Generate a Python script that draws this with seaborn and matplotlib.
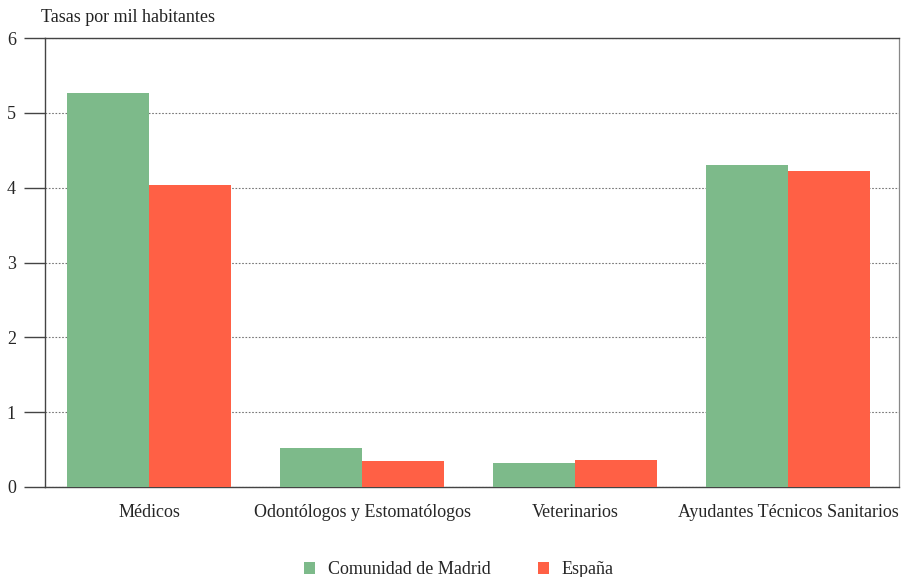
import numpy as np
import pandas as pd
import matplotlib
matplotlib.use("Agg")
import matplotlib.pyplot as plt
import seaborn as sns

# datos
categorias = ["Médicos", "Odontólogos y Estomatólogos", "Veterinarios",
              "Ayudantes Técnicos Sanitarios"]
madrid = [5.27, 0.52, 0.32, 4.30]
espana = [4.04, 0.35, 0.36, 4.22]
series = ["Comunidad de Madrid", "España"]
colores = ["#7dba8a", "#ff6045"]

df = pd.DataFrame({
    "categoria": categorias * 2,
    "serie": [series[0]] * 4 + [series[1]] * 4,
    "valor": madrid + espana,
})

sns.set_style("white")
plt.rcParams["font.family"] = ["Liberation Serif", "DejaVu Serif"]

fig = plt.figure(figsize=(9.03, 5.77), dpi=100)
ax = fig.add_axes([0.0498, 0.156, 0.946, 0.778])

sns.barplot(data=df, x="categoria", y="valor", hue="serie",
            palette=colores, width=0.77, saturation=1, ax=ax,
            edgecolor="none", zorder=3)

ax.set_ylim(0, 6)
ax.set_xlim(-0.49, 3.52)
ax.set_yticks(range(0, 7))
ax.yaxis.grid(True, linestyle=(0, (1.5, 1.5)), color="#777777",
              linewidth=0.8, zorder=0)
ax.set_axisbelow(True)

for s in ["left", "top", "bottom"]:
    ax.spines[s].set_visible(True)
    ax.spines[s].set_color("#444444")
    ax.spines[s].set_linewidth(1.0)
ax.spines["right"].set_visible(True)
ax.spines["right"].set_color("#888888")
ax.spines["right"].set_linewidth(0.9)

ax.tick_params(axis="y", direction="out", length=15, width=1,
               color="#444444", labelsize=13, pad=6, left=True)
ax.tick_params(axis="x", length=0, labelsize=13, pad=12)
ax.set_xlabel("")
ax.set_ylabel("")

fig.text(0.045, 0.955, "Tasas por mil habitantes", fontsize=13,
         ha="left", va="bottom", color="#222222")

h, l = ax.get_legend_handles_labels()
ax.legend_.remove()
fig.legend(h, l, loc="lower center", bbox_to_anchor=(0.508, -0.03),
           ncol=2, frameon=False, fontsize=13, handlelength=0.65,
           handleheight=0.65, columnspacing=2.6, handletextpad=0.7)

fig.savefig("out.png", dpi=100)
